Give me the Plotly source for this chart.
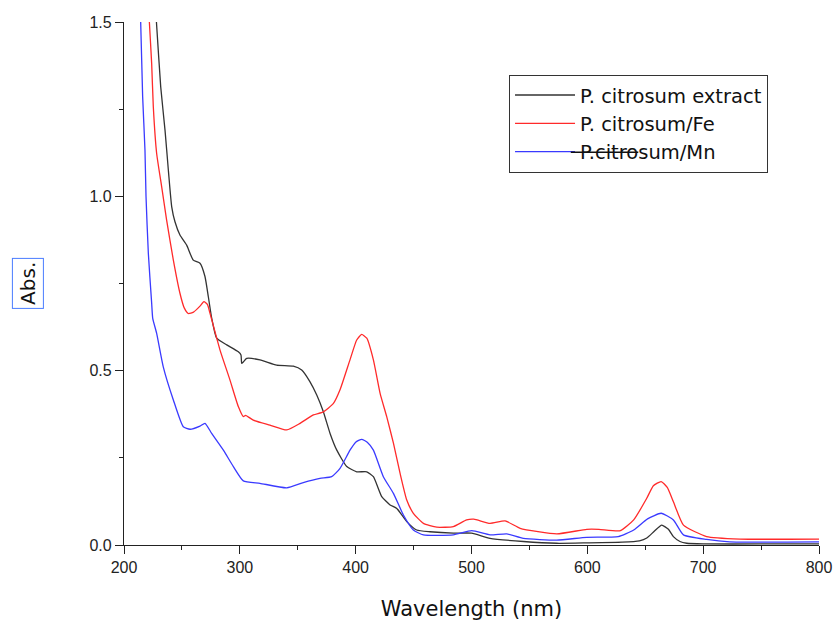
import plotly.graph_objects as go

# ---- data ----
extract_x = [226, 228, 231.7, 235.4, 238.3, 241.2, 244, 248.3, 254.1, 259.8, 265.6, 269.9, 272.8, 275.7,
             280, 288.7, 298.7, 301, 301.6, 303, 305.9, 317.4, 331.8, 346.2, 353.4, 360.6, 366.4, 372.1,
             377.9, 383.7, 392.3, 400.9, 409.6, 415.3, 422.5, 429.7, 435.5, 444.1, 452.7, 464.2, 484.3,
             500, 516, 544.8, 573.6, 600, 630, 645, 651.3, 658, 664.2, 670, 674.3, 680, 685.8, 700, 750, 800]
extract_y = [1.6, 1.5, 1.314, 1.19, 1.075, 0.97, 0.927, 0.889, 0.86, 0.817, 0.808, 0.77, 0.712, 0.651,
             0.593, 0.574, 0.554, 0.545, 0.521, 0.525, 0.535, 0.531, 0.516, 0.513, 0.502, 0.468, 0.43, 0.382,
             0.32, 0.272, 0.225, 0.21, 0.21, 0.196, 0.139, 0.115, 0.105, 0.067, 0.043, 0.038, 0.034,
             0.034, 0.019, 0.01, 0.005, 0.006, 0.008, 0.012, 0.02, 0.04, 0.057, 0.045, 0.024, 0.01, 0.005,
             0.003, 0.003, 0.003]

fe_x = [220.5, 221.9, 223.9, 225.3, 228.2, 232.5, 236.8, 242.6, 248.3, 252, 255.5, 260, 265.6, 269, 272,
        274.2, 282.9, 291.5, 298.7, 303, 305, 311.6, 326, 340.5, 352, 363.5, 372.1, 380.8, 386.5, 395.1,
        400.9, 405.2, 409.6, 415.3, 421.1, 426.8, 432.6, 438.3, 444.1, 449.8, 458.5, 470, 484.3, 495.8,
        502, 516, 529, 542, 573.6, 599.5, 610, 628.5, 640, 651.3, 657, 663.7, 669, 674.3, 683, 703,
        731.8, 800]
fe_y = [1.6, 1.5, 1.38, 1.257, 1.123, 1.028, 0.932, 0.817, 0.722, 0.68, 0.664, 0.668, 0.685, 0.698, 0.69,
        0.665, 0.559, 0.473, 0.397, 0.368, 0.372, 0.358, 0.344, 0.33, 0.349, 0.373, 0.382, 0.406, 0.445,
        0.531, 0.588, 0.604, 0.593, 0.531, 0.435, 0.368, 0.292, 0.206, 0.129, 0.091, 0.062, 0.051, 0.053,
        0.072, 0.074, 0.062, 0.069, 0.048, 0.032, 0.045, 0.045, 0.041, 0.072, 0.134, 0.17, 0.182, 0.165,
        0.124, 0.057, 0.024, 0.017, 0.017]

mn_x = [213, 214.4, 216.1, 218.1, 219, 221, 223.9, 224.8, 228.2, 233.9, 242.6, 251.2, 257, 265.6, 269.9,
        275.7, 285.8, 294.4, 303, 317.4, 340.5, 354.8, 369.2, 379.3, 386.5, 395.1, 400, 405.2, 410, 415.3,
        423.9, 432.6, 441.2, 449.8, 458.5, 484.3, 500.2, 516, 530.4, 544.8, 573.6, 599.5, 626.7, 640, 652,
        663.7, 674.3, 683, 703, 723, 800]
mn_y = [1.6, 1.5, 1.286, 1.133, 1.0, 0.837, 0.693, 0.65, 0.607, 0.511, 0.416, 0.339, 0.332, 0.341, 0.349,
        0.32, 0.272, 0.225, 0.184, 0.177, 0.164, 0.179, 0.191, 0.196, 0.22, 0.272, 0.295, 0.303, 0.295,
        0.272, 0.196, 0.148, 0.086, 0.043, 0.029, 0.029, 0.041, 0.029, 0.032, 0.019, 0.014, 0.022, 0.024,
        0.043, 0.075, 0.091, 0.072, 0.029, 0.016, 0.009, 0.009]

names = ["P. citrosum extract", "P. citrosum/Fe", "P.citrosum/Mn"]
colors = ["#333333", "#ff2a2a", "#3a3aff"]
x_ticks = [200, 300, 400, 500, 600, 700, 800]
y_ticks = [0.0, 0.5, 1.0, 1.5]

fig = go.Figure()
for xs, ys, nm, c in [(extract_x, extract_y, names[0], colors[0]),
                      (fe_x, fe_y, names[1], colors[1]),
                      (mn_x, mn_y, names[2], colors[2])]:
    fig.add_trace(go.Scatter(x=xs, y=ys, mode="lines", name=nm,
                             line=dict(color=c, width=1.3, shape="spline", smoothing=0.5)))

tickfont = dict(family="Liberation Sans, Arial, sans-serif", size=16, color="#222")

fig.update_layout(
    width=839, height=625,
    margin=dict(l=124, r=20, t=22, b=80),
    paper_bgcolor="white", plot_bgcolor="white",
    showlegend=True,
    legend=dict(x=0.554, y=0.899, xanchor="left", yanchor="top",
                bgcolor="white", bordercolor="#333", borderwidth=1, itemwidth=60,
                tracegroupgap=0,
                font=dict(family="DejaVu Sans, sans-serif", size=19.5, color="#111")),
    xaxis=dict(range=[200, 800], tickvals=x_ticks, ticktext=[str(v) for v in x_ticks],
               showline=True, linecolor="#222", linewidth=1.2, ticks="outside", ticklen=8,
               tickcolor="#222", showgrid=False, zeroline=False, tickfont=tickfont,
               automargin=False,
               minor=dict(dtick=50, ticks="outside", ticklen=4, tickcolor="#222", showgrid=False),
               title=dict(text="Wavelength (nm)",
                          font=dict(family="DejaVu Sans, sans-serif", size=21, color="#111"),
                          standoff=26)),
    yaxis=dict(range=[0, 1.5], tickvals=y_ticks, ticktext=["0.0", "0.5", "1.0", "1.5"],
               showline=True, linecolor="#222", linewidth=1.2, ticks="outside", ticklen=8,
               tickcolor="#222", showgrid=False, zeroline=False, tickfont=tickfont,
               automargin=False,
               minor=dict(dtick=0.25, ticks="outside", ticklen=4, tickcolor="#222", showgrid=False)),
    annotations=[
        dict(text="Abs.", xref="paper", yref="paper", x=-0.139, y=0.5,
             xanchor="center", yanchor="middle",
             textangle=-90, showarrow=False,
             font=dict(family="DejaVu Sans, sans-serif", size=20, color="#111"),
             bordercolor="#4a7cff", borderwidth=1, borderpad=3),
        dict(text="", xref="paper", yref="paper", x=0.740, y=0.751,
             ax=-69, ay=0, axref="pixel", ayref="pixel",
             showarrow=True, arrowhead=0, arrowwidth=1.3, arrowcolor="#111", standoff=0,
             startstandoff=0),
    ],
)

fig.write_html("out.html")
